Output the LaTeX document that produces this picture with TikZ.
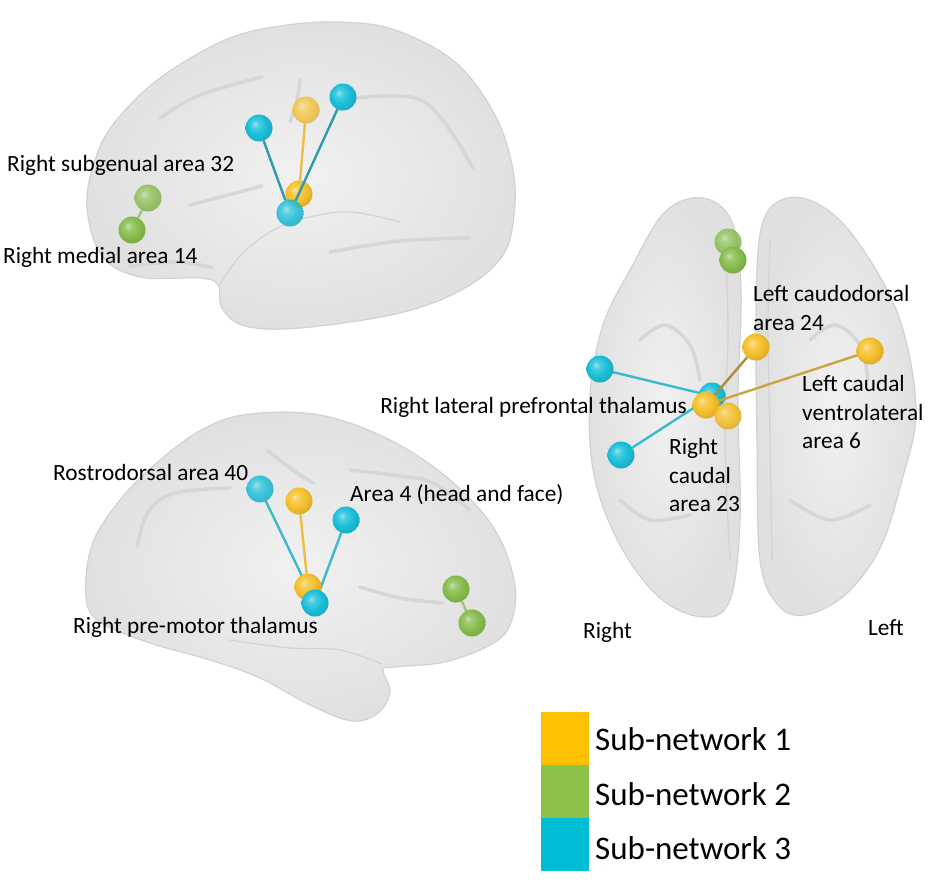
\documentclass[tikz,border=0pt]{standalone}
\usepackage{fontspec}
\setmainfont{Carlito}
\pgfdeclarelayer{brainlayer}
\pgfdeclarelayer{edgelayer}
\pgfsetlayers{brainlayer,edgelayer,main}
\definecolor{subY}{HTML}{FFC000}
\definecolor{subG}{HTML}{8BC34A}
\definecolor{subC}{HTML}{00BCD4}
\definecolor{sphY}{HTML}{F6C12E}
\definecolor{sphG}{HTML}{88BE4E}
\definecolor{sphC}{HTML}{1CC0DA}
\definecolor{brainin}{HTML}{F1F1F1}
\definecolor{brainout}{HTML}{E0E0E0}
\definecolor{brainedge}{HTML}{D2D2D2}
\definecolor{sulc}{HTML}{D6D6D6}
\definecolor{edgeC}{HTML}{3DB9CE}
\definecolor{edgeCdark}{HTML}{2E9BAE}
\definecolor{edgeY}{HTML}{EDBE45}
\definecolor{edgeYdark}{HTML}{A88F3C}
\definecolor{edgeYmid}{HTML}{C9A43F}
\definecolor{edgeG}{HTML}{9CC878}
\pgfdeclareradialshading{ballY}{\pgfpoint{-8bp}{8bp}}{color(0bp)=(sphY!45!white); color(7bp)=(sphY!80!white); color(17bp)=(sphY); color(30bp)=(sphY!88!black); color(37bp)=(sphY!78!black); color(50bp)=(sphY!78!black)}
\pgfdeclareradialshading{ballG}{\pgfpoint{-8bp}{8bp}}{color(0bp)=(sphG!45!white); color(7bp)=(sphG!80!white); color(17bp)=(sphG); color(30bp)=(sphG!88!black); color(37bp)=(sphG!78!black); color(50bp)=(sphG!78!black)}
\pgfdeclareradialshading{ballC}{\pgfpoint{-8bp}{8bp}}{color(0bp)=(sphC!45!white); color(7bp)=(sphC!80!white); color(17bp)=(sphC); color(30bp)=(sphC!88!black); color(37bp)=(sphC!78!black); color(50bp)=(sphC!78!black)}
\tikzset{
  sph/.style={circle, minimum size=27pt, inner sep=0pt, outer sep=0pt},
  nodeY/.style={sph, shading=ballY},
  nodeG/.style={sph, shading=ballG},
  nodeC/.style={sph, shading=ballC},
  brain/.style={inner color=brainin, outer color=brainout, draw=brainedge, line width=1.2pt},
  sulcus/.style={draw=sulc, line width=3.5pt, line cap=round},
  rim/.style={draw=brainedge, line width=1.2pt, line cap=round},
  lab/.style={font=\fontsize{23.3}{28.5}\selectfont, inner sep=0pt, anchor=west, align=left},
  leg/.style={font=\fontsize{33}{38}\selectfont, inner sep=0pt, anchor=west},
  legbox/.style={draw=none, minimum width=48pt, minimum height=53pt, inner sep=0pt, outer sep=0pt},
  linkC/.style={draw=edgeC, line width=2.4pt},
  linkCd/.style={draw=edgeCdark, line width=2.4pt},
  linkY/.style={draw=edgeY, line width=2.4pt},
  linkG/.style={draw=edgeG, line width=2.4pt},
}
\begin{document}
\begin{tikzpicture}[x=1pt, y=-1pt]
\useasboundingbox (0,0) rectangle (942,886);

\begin{pgfonlayer}{brainlayer}
\fill[white] (0,0) rectangle (942,886);
% ---------- top brain (lateral) ----------
\path[brain] plot[smooth cycle, tension=0.6] coordinates {(87,207) (95,160) (115,122) (160,78) (225,40) (280,26) (340,22) (395,30) (455,62) (495,115) (513,170) (514,215) (503,255) (465,288) (400,313) (300,328) (245,326) (222,308) (218,285) (200,278) (140,277) (102,256)};
\draw[rim] plot[smooth, tension=0.6] coordinates {(220,284) (240,256) (270,232) (305,218) (350,212) (400,222)};
\draw[sulcus] plot[smooth, tension=0.6] coordinates {(160,118) (200,95) (262,77)};
\draw[sulcus] plot[smooth, tension=0.6] coordinates {(300,80) (297,100) (290,122)};
\draw[sulcus] plot[smooth, tension=0.6] coordinates {(355,98) (390,96) (423,101) (450,130) (473,168)};
\draw[sulcus] plot[smooth, tension=0.6] coordinates {(190,205) (228,195) (262,186)};
\draw[sulcus] plot[smooth, tension=0.6] coordinates {(130,266) (180,262) (212,268)};
\draw[sulcus] plot[smooth, tension=0.6] coordinates {(330,252) (400,241) (470,238)};

% ---------- bottom brain (medial) ----------
\path[brain] plot[smooth cycle, tension=0.6] coordinates {(86,597) (92,545) (120,500) (160,460) (205,428) (250,414) (320,415) (390,440) (450,480) (495,530) (515,585) (510,625) (490,645) (445,662) (395,667) (383,670) (390,692) (378,713) (352,721) (310,705) (260,678) (210,660) (150,643) (100,622)};
\draw[sulcus] plot[smooth, tension=0.6] coordinates {(137,547) (148,512) (175,493) (230,488)};
\draw[sulcus] plot[smooth, tension=0.6] coordinates {(350,470) (400,476) (433,483) (470,510)};
\draw[sulcus] plot[smooth, tension=0.6] coordinates {(267,450) (290,468) (313,483)};
\draw[sulcus] plot[smooth, tension=0.6] coordinates {(360,587) (400,598) (443,603)};
\draw[rim] plot[smooth, tension=0.6] coordinates {(382,664) (340,650) (290,648) (230,640)};

% ---------- axial view ----------
\path[brain] plot[smooth cycle, tension=0.6] coordinates {(703,198) (665,212) (630,270) (603,325) (590,395) (594,475) (620,545) (660,598) (703,617) (730,600) (740,520) (738,400) (741,290) (732,222)};
\path[brain] plot[smooth cycle, tension=0.6] coordinates {(787,198) (762,225) (756,310) (757,440) (760,560) (778,605) (805,615) (845,595) (880,548) (902,480) (916,410) (900,320) (862,248) (825,208)};
\draw[sulcus] plot[smooth, tension=0.6] coordinates {(640,340) (665,325) (690,345) (700,380)};
\draw[sulcus] plot[smooth, tension=0.6] coordinates {(620,500) (650,520) (690,515)};
\draw[sulcus] plot[smooth, tension=0.6] coordinates {(810,340) (835,325) (860,345) (868,380)};
\draw[sulcus] plot[smooth, tension=0.6] coordinates {(790,500) (830,520) (870,505)};
\draw[rim] plot[smooth, tension=0.6] coordinates {(725,240) (728,330) (725,440) (730,560)};
\draw[rim] plot[smooth, tension=0.6] coordinates {(770,240) (768,330) (770,440) (772,560)};
\end{pgfonlayer}

% ---------- top brain nodes ----------
\node[nodeG, opacity=0.8] (tg32) at (148,198) {};
\node[nodeG] (tg14) at (132,230) {};
\node[nodeC] (tc1) at (259,128) {};
\node[nodeY, opacity=0.75] (ty1) at (306,110) {};
\node[nodeC] (tc2) at (343,97) {};
\node[nodeY] (tyh) at (299,194) {};
\node[nodeC, opacity=0.85] (tch) at (290,213) {};
\draw[linkG] (tg32) -- (tg14);
\draw[linkCd] (tc1) -- (tch);
\draw[linkCd] (tc2) -- (tch);
\draw[linkY] (ty1) -- (tyh);

% ---------- bottom brain nodes ----------
\node[nodeC, opacity=0.85] (bc40) at (260,489) {};
\node[nodeY] (by1) at (299,501) {};
\node[nodeC] (bc4) at (346,520) {};
\node[nodeY] (byh) at (308,587) {};
\node[nodeC] (bch) at (315,603) {};
\node[nodeG] (bg1) at (456,589) {};
\node[nodeG] (bg2) at (472,623) {};
\begin{pgfonlayer}{edgelayer}
\draw[linkC] (bc40) -- (bch);
\draw[linkC] (bc4) -- (bch);
\draw[linkY] (by1) -- (byh);
\draw[linkG] (bg1) -- (bg2);
\end{pgfonlayer}

% ---------- axial nodes ----------
\node[nodeG, opacity=0.8] (ag1) at (728,242) {};
\node[nodeG] (ag2) at (733,260) {};
\node[nodeY] (ay24) at (756,347) {};
\node[nodeY] (ay6) at (870,351) {};
\node[nodeC] (ac1) at (600,369) {};
\node[nodeC] (ac2) at (621,455) {};
\node[nodeC] (ach) at (712,396) {};
\node[nodeY] (ayh) at (706,405) {};
\node[nodeY, opacity=0.9] (ay23) at (728,416) {};
\begin{pgfonlayer}{edgelayer}
\draw[linkC] (ac1) -- (ach);
\draw[linkC] (ac2) -- (ach);
\end{pgfonlayer}
\draw[draw=edgeYdark, line width=2.4pt] (ay24) -- (ayh);
\draw[draw=edgeYmid, line width=2.4pt] (ay6) -- (ayh);

% ---------- labels ----------
\node[lab] (l32) at (7,165) {Right subgenual area 32};
\node[lab] (l14) at (3,257) {Right medial area 14};
\node[lab] (l40) at (53,472) {Rostrodorsal area 40};
\node[lab] (l4) at (350,495) {Area 4 (head and face)};
\node[lab] (lpm) at (73,627) {Right pre-motor thalamus};
\node[lab, anchor=east] (llp) at (687,407) {Right lateral prefrontal thalamus};
\node[lab] (l24) at (753,308) {Left caudodorsal\\area 24};
\node[lab] (l6) at (802,412) {Left caudal\\ventrolateral\\area 6};
\node[lab] (l23) at (669,475) {Right\\caudal\\area 23};
\node[lab] (lr) at (583,632) {Right};
\node[lab] (ll) at (868,628) {Left};

% ---------- legend ----------
\node[legbox, fill=subY, anchor=north west] (k1) at (541,712) {};
\node[legbox, fill=subG, anchor=north] (k2) at (k1.south) {};
\node[legbox, fill=subC, anchor=north] (k3) at (k2.south) {};
\node[leg] (t1) at (595,739) {Sub-network 1};
\node[leg] (t2) at (595,794) {Sub-network 2};
\node[leg] (t3) at (595,848) {Sub-network 3};
\end{tikzpicture}
\end{document}
